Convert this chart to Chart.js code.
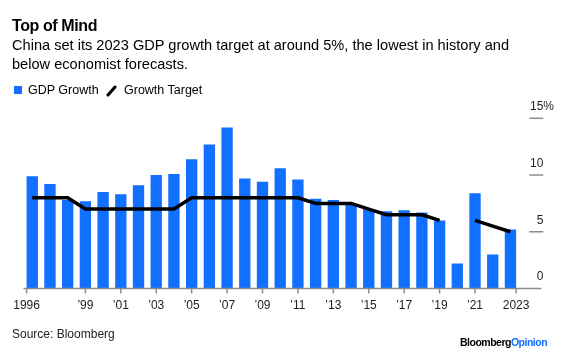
<!DOCTYPE html>
<html>
<head>
<meta charset="utf-8">
<script src="https://cdn.jsdelivr.net/npm/chart.js@4.4.1/dist/chart.umd.min.js"></script>
<style>
  html, body { margin: 0; padding: 0; background: #fff; }
  #wrap { position: relative; width: 566px; height: 352px; font-family: "Liberation Sans", Arial, sans-serif; color: #000; overflow: hidden; }
  #chart { position: absolute; left: 0; top: 0; }
  .title { position: absolute; left: 12px; top: 18px; font-size: 16px; line-height: 16px; font-weight: bold; letter-spacing: -0.4px; white-space: nowrap; }
  .sub { position: absolute; left: 12px; top: 36px; font-size: 14.6px; line-height: 19px; white-space: nowrap; }
  .legend { position: absolute; left: 14px; top: 83px; font-size: 12.5px; line-height: 14px; white-space: nowrap; }
  .legend span { position: absolute; top: 0; }
  .source { position: absolute; left: 12px; top: 327px; font-size: 12px; line-height: 14px; color: #222; }
  .logo { position: absolute; left: 460px; top: 336px; font-size: 10.5px; line-height: 12px; font-weight: bold; letter-spacing: -0.5px; white-space: nowrap; }
</style>
</head>
<body>
<div id="wrap">
  <canvas id="chart" width="566" height="352"></canvas>
  <div class="title">Top of Mind</div>
  <div class="sub">China set its 2023 GDP growth target at around 5%, the lowest in history and<br>below economist forecasts.</div>
  <div class="legend" id="legend"></div>
  <div class="source">Source: Bloomberg</div>
  <div class="logo">Bloomberg<span style="color:#1170ff">Opinion</span></div>
</div>
<script>
// data
const years = [1996, 1997, 1998, 1999, 2000, 2001, 2002, 2003, 2004, 2005, 2006, 2007, 2008, 2009,
               2010, 2011, 2012, 2013, 2014, 2015, 2016, 2017, 2018, 2019, 2020, 2021, 2022, 2023];
const gdpGrowth = [9.9, 9.2, 7.8, 7.7, 8.5, 8.3, 9.1, 10.0, 10.1, 11.4, 12.7, 14.2, 9.7, 9.4,
                   10.6, 9.6, 7.9, 7.8, 7.4, 7.0, 6.8, 6.9, 6.7, 6.0, 2.2, 8.4, 3.0, 5.2];
const growthTarget = [8, 8, 8, 7, 7, 7, 7, 7, 7, 8, 8, 8, 8, 8,
                      8, 8, 7.5, 7.5, 7.5, 7, 6.5, 6.5, 6.5, 6, null, 6, 5.5, 5];
const xTickYears = [1996, 1999, 2001, 2003, 2005, 2007, 2009, 2011, 2013, 2015, 2017, 2019, 2021, 2023];
const yTicks = [0, 5, 10, 15];

const BLUE = '#1170ff';
const AXIS_GREY = '#8c8c8c';

// legend (html)
const legendEl = document.getElementById('legend');
legendEl.innerHTML =
  '<span style="left:0;top:3px;width:8px;height:8px;background:' + BLUE + '"></span>' +
  '<span style="left:14px">GDP Growth</span>' +
  '<svg style="position:absolute;left:92px;top:0" width="12" height="14"><line x1="2" y1="12" x2="9" y2="4" stroke="#000" stroke-width="3" stroke-linecap="round"/></svg>' +
  '<span style="left:110px">Growth Target</span>';

const yearLabel = function (yr) {
  if (yr === years[0] || yr === years[years.length - 1]) return String(yr);
  return '\u2019' + String(yr).slice(2);
};

/**
 * Bloomberg style axes: right side ticks with labels above, x ticks under bars
 */
const bbgAxes = {
  id: 'bbgAxes',
  afterDatasetsDraw(chart) {
    const ctx = chart.ctx;
    const x = chart.scales.x;
    const y = chart.scales.y;
    const area = chart.chartArea;
    const y0 = y.getPixelForValue(0);
    const bars = chart.getDatasetMeta(1).data;
    const half = bars[0].width / 2;
    const axisEnd = area.right + 22;

    ctx.save();
    ctx.strokeStyle = AXIS_GREY;
    ctx.lineWidth = 1.5;
    ctx.beginPath();
    ctx.moveTo(area.left, y0);
    ctx.lineTo(axisEnd, y0);
    ctx.stroke();

    ctx.font = '12px "Liberation Sans", Arial, sans-serif';
    ctx.fillStyle = '#222';
    ctx.textBaseline = 'middle';

    // x ticks
    xTickYears.forEach(function (yr) {
      const i = years.indexOf(yr);
      let px = x.getPixelForValue(i);
      if (i === 0) px -= half;
      if (i === years.length - 1) px += half;
      ctx.beginPath();
      ctx.moveTo(px, y0);
      ctx.lineTo(px, y0 + 5);
      ctx.stroke();
      ctx.textAlign = 'center';
      ctx.fillText(yearLabel(yr), px, y0 + 17);
    });

    // y ticks on the right
    const tx1 = area.right + 10, tx2 = area.right + 24;
    yTicks.forEach(function (v) {
      const py = y.getPixelForValue(v);
      if (v !== 0) {
        ctx.beginPath();
        ctx.moveTo(tx1, py);
        ctx.lineTo(tx2, py);
        ctx.stroke();
      }
      ctx.textAlign = 'right';
      ctx.fillText(String(v), tx2, py - 11.5);
      if (v === yTicks[yTicks.length - 1]) {
        ctx.textAlign = 'left';
        ctx.fillText('%', tx2, py - 11.5);
      }
    });
    ctx.restore();
  }
};

new Chart(document.getElementById('chart'), {
  type: 'bar',
  data: {
    labels: years.map(String),
    datasets: [
      {
        type: 'line',
        label: 'Growth Target',
        data: growthTarget,
        borderColor: '#000',
        borderWidth: 3.5,
        pointRadius: 0,
        spanGaps: false,
        tension: 0,
        borderJoinStyle: 'round',
        borderCapStyle: 'butt',
        order: 0
      },
      {
        label: 'GDP Growth',
        data: gdpGrowth,
        backgroundColor: BLUE,
        borderWidth: 0,
        barPercentage: 0.64,
        categoryPercentage: 1,
        order: 1
      }
    ]
  },
  options: {
    responsive: false,
    animation: false,
    layout: { padding: { left: 23.4, right: 46.7, top: 118.3, bottom: 63.5 } },
    scales: {
      x: { display: false, offset: true },
      y: { display: false, min: 0, max: 15 }
    },
    plugins: { legend: { display: false }, tooltip: { enabled: false } }
  },
  plugins: [bbgAxes]
});
</script>
</body>
</html>
